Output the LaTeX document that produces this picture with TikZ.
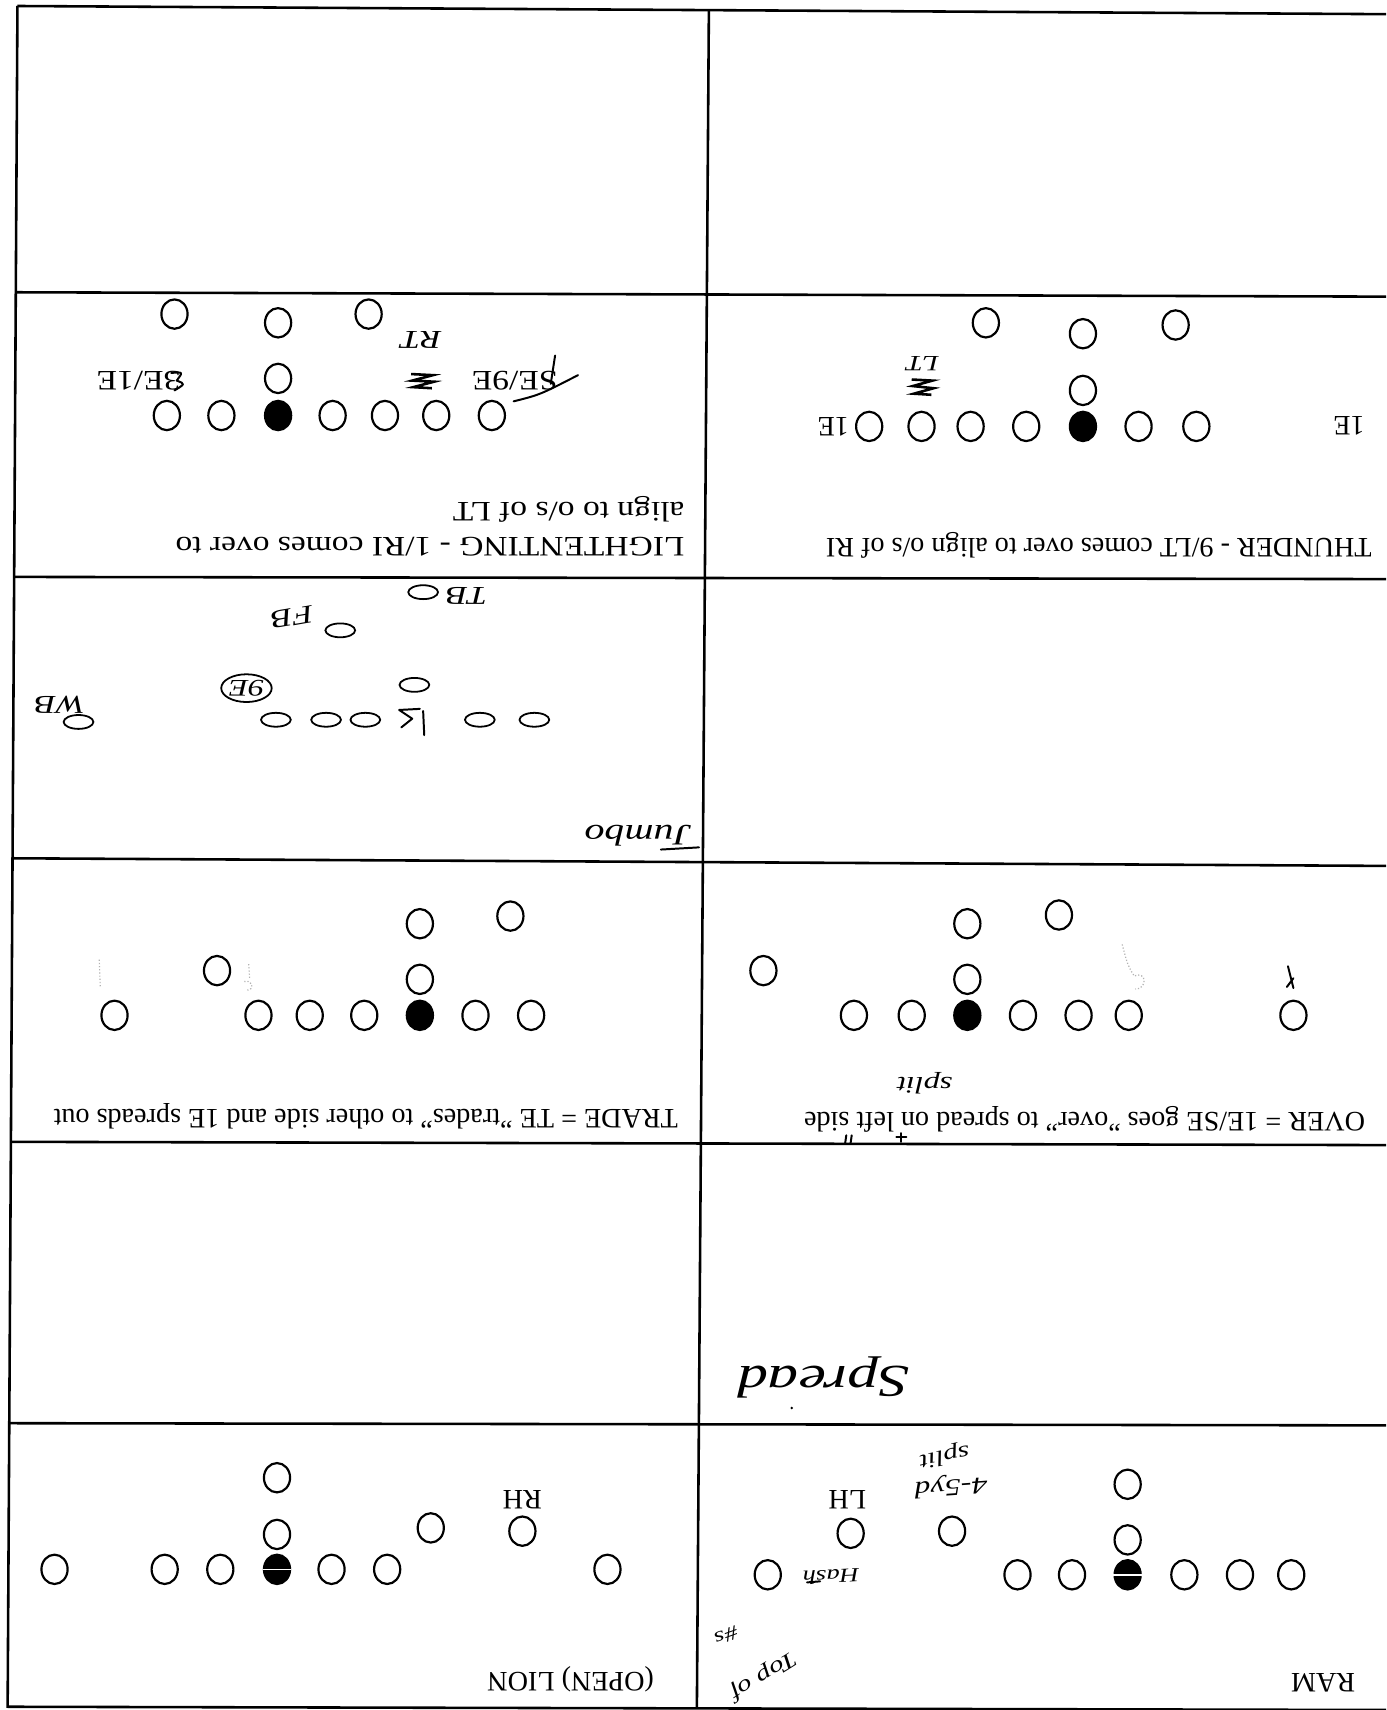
\documentclass[tikz,border=0pt]{standalone}
\usepackage{fontspec}
\setmainfont{Liberation Serif}
\newfontfamily\handfont[FakeStretch=1.35]{Liberation Serif}
\newfontfamily\widefont[FakeStretch=1.19]{Liberation Serif}
\usetikzlibrary{shapes.geometric}
\begin{document}
\begin{tikzpicture}[x=0.55pt,y=-0.55pt,
  pl/.style={draw, ellipse, line width=1.1pt, minimum width=13.2pt, minimum height=14.8pt, inner sep=0pt},
  ctr/.style={pl, fill=black},
  hp/.style={draw, ellipse, line width=0.9pt, minimum width=15pt, minimum height=7pt, inner sep=0pt},
  lbl/.style={font=\fontsize{14.2}{17}\selectfont, rotate=180, inner sep=0pt},
  wlbl/.style={font=\widefont\fontsize{14.2}{17}\selectfont, rotate=180, inner sep=0pt},
  note/.style={font=\handfont\itshape\fontsize{#1}{#1}\selectfont, rotate=180, inner sep=0pt},
  note/.default=13,
  frame/.style={line width=1.3pt},
  hw/.style={line width=1pt, line cap=round, line join=round},
  faint/.style={gray!60, line width=0.6pt, densely dotted}
]
\fill[white] (0,0) rectangle (1271,1568);
\useasboundingbox (0,0) rectangle (1271,1568);

% ---------------- frame ----------------
\draw[frame] (16,5.5) -- (1271,13);
\draw[frame] (16,5.5) -- (7,1566);
\draw[frame] (650,10) -- (639,1567);
\draw[frame] (15,268) -- (1271,272);
\draw[frame] (13,529) -- (1271,531);
\draw[frame] (12,787) -- (1271,794);
\draw[frame] (10,1047) -- (1271,1050);
\draw[frame] (9,1305) -- (1271,1307);
\draw[frame] (7,1565) -- (1271,1568);

% ---------------- LIGHTENTING (row 2 left) ----------------
\node[pl] (lb1) at (160,288) {};
\node[pl] (lb2) at (255,296) {};
\node[pl] (lb3) at (338,288) {};
\node[pl] (lq) at (255,347) {};
\foreach \i/\x in {1/153,2/203,4/305,5/353,6/400,7/451} \node[pl] (ll\i) at (\x,381) {};
\node[ctr] (ll3) at (255,381) {};
\node[wlbl] (llab1) at (127,349) {3E/1E};
\node[wlbl] (llab2) at (472,349) {SE/9E};
\node[note=13] (lrt) at (386,312) {RT};
\draw[line width=1.3pt] (377,343) -- (397,344) -- (378,349) -- (398,350) -- (379,355) -- (396,356);
\draw[hw] (471,368) .. controls (495,362) .. (530,344);
\draw[hw] (509,326) -- (505,352);
\draw[hw] (157,342) .. controls (168,341) .. (162,349) .. controls (170,352) .. (160,358);
\node[wlbl, anchor=west] (lt1) at (628,501) {LIGHTENTING - 1/RI comes over to};
\node[wlbl, anchor=west] (lt2) at (628,467) {align to o/s of LT};

% ---------------- THUNDER (row 2 right) ----------------
\node[pl] (tb1) at (904,296) {};
\node[pl] (tb2) at (993,306) {};
\node[pl] (tb3) at (1078,298) {};
\node[pl] (tq) at (993,358) {};
\foreach \i/\x in {1/797,2/845,3/890,4/941,6/1044,7/1097} \node[pl] (tl\i) at (\x,391) {};
\node[ctr] (tl5) at (993,391) {};
\node[lbl] (tlab1) at (764,391) {1E};
\node[lbl] (tlab2) at (1237,390) {1E};
\node[note=11] (tlt) at (846,333) {LT};
\draw[line width=1.3pt] (836,348) -- (855,349) -- (837,354) -- (856,356) -- (838,361) -- (854,362);
\node[lbl, anchor=west] (tt1) at (1258,500) {THUNDER - 9/LT comes over to align o/s of RI};

% ---------------- handwritten (row 3 left) ----------------
\node[hp] (jtb) at (388,543) {};
\node[note=13] (jtbl) at (428,546) {TB};
\node[hp] (jfb) at (312,578) {};
\node[note=13, rotate=10] (jfbl) at (268,566) {FB};
\node[draw, ellipse, line width=0.9pt, minimum width=17pt, minimum height=14pt, inner sep=0pt, font=\handfont\itshape\fontsize{12}{12}\selectfont, rotate=180] (j9e) at (226,631) {9E};
\node[hp] (jq) at (380,628) {};
\foreach \i/\x in {1/253,2/299,3/335,5/440,6/490} \node[hp] (jl\i) at (\x,660) {};
\coordinate (jc) at (380,662);
\draw[hw] (366,651) -- (385,650) (366,651) -- (378,659) -- (368,667) (388,652) -- (389,674);
\node[hp] (jwb) at (72,662) {};
\node[note=13] (jwbl) at (55,646) {WB};
\node[note=15] (jumbo) at (585,766) {Jumbo};
\draw[hw] (606,779) -- (641,777);

% ---------------- TRADE (row 4 left) ----------------
\node[pl] (rb1) at (385,847) {};
\node[pl] (rb2) at (468,840) {};
\node[pl] (rq) at (385,898) {};
\node[pl] (rw) at (199,890) {};
\foreach \i/\x in {1/105,2/237,3/284,4/334,6/436,7/487} \node[pl] (rl\i) at (\x,931) {};
\node[ctr] (rl5) at (385,931) {};
\draw[faint] (91,880) -- (92,906);
\draw[faint] (228,884) -- (229,898) (224,900) .. controls (232,898) and (234,908) .. (226,908);
\node[lbl, anchor=west] (rt1) at (622,1024) {TRADE = TE "trades" to other side and 1E spreads out};

% ---------------- OVER (row 4 right) ----------------
\node[pl] (ob1) at (887,847) {};
\node[pl] (ob2) at (971,839) {};
\node[pl] (oq) at (887,898) {};
\node[pl] (ow) at (700,890) {};
\foreach \i/\x in {1/783,2/836,4/938,5/989,6/1035,7/1186} \node[pl] (ol\i) at (\x,931) {};
\node[ctr] (ol3) at (887,931) {};
\draw[hw] (1181,886) -- (1186,906) (1186,897) -- (1180,905);
\draw[faint] (1029,866) .. controls (1034,885) .. (1040,895) .. controls (1052,890) and (1052,907) .. (1041,907);
\node[lbl, anchor=west] (ot1) at (1252,1026) {OVER = 1E/SE goes "over" to spread on left side};
\node[note=12] (osplit) at (848,993) {split};
\draw[hw] (776,1041) -- (775,1048) (781,1041) -- (780,1048);
\draw[hw] (822,1043) -- (831,1043) (826,1039) -- (826,1047);

% ---------------- Spread (row 5 right) ----------------
\node[note=23] (spread) at (755,1263) {Spread};
\fill (726,1291) circle (1.3);

% ---------------- OPEN LION (row 6 left) ----------------
\node[pl] (lnd) at (254,1355) {};
\node[pl] (lnq) at (254,1407) {};
\node[ctr] (lnc) at (254,1439) {};
\draw[white, line width=0.8pt] (lnc.west) -- (lnc.east);
\foreach \i/\x in {1/50,2/151,3/202,5/304,6/355,7/557} \node[pl] (lnl\i) at (\x,1439) {};
\node[pl] (lnb1) at (395,1401) {};
\node[pl] (lnb2) at (479,1404) {};
\node[lbl] (lnrh) at (479,1375) {RH};
\node[lbl, anchor=west] (lnt) at (600,1540) {(OPEN) LION};

% ---------------- RAM (row 6 right) ----------------
\node[pl] (rmd) at (1034,1361) {};
\node[pl] (rmq) at (1034,1412) {};
\node[ctr] (rmc) at (1034,1444) {};
\draw[white, line width=0.8pt] (rmc.west) -- (rmc.east);
\foreach \i/\x in {1/704,2/933,3/983,5/1086,6/1137,7/1184} \node[pl] (rml\i) at (\x,1444) {};
\node[pl] (rmb1) at (780,1406) {};
\node[pl] (rmb2) at (873,1404) {};
\node[lbl] (rmlh) at (777,1375) {LH};
\node[lbl, anchor=west] (rmt) at (1243,1543) {RAM};
\node[note=11, rotate=12] (rmsplit) at (866,1335) {split};
\node[note=12, rotate=4] (rmyd) at (872,1362) {4-5yd};
\node[note=10, rotate=3] (rmhash) at (762,1446) {Hash};
\draw[hw] (740,1451) -- (752,1450);
\node[note=11, rotate=32] (rmtop) at (700,1536) {Top of};
\node[note=10, rotate=20] (rmnum) at (666,1500) {\#s};
\end{tikzpicture}
\end{document}
